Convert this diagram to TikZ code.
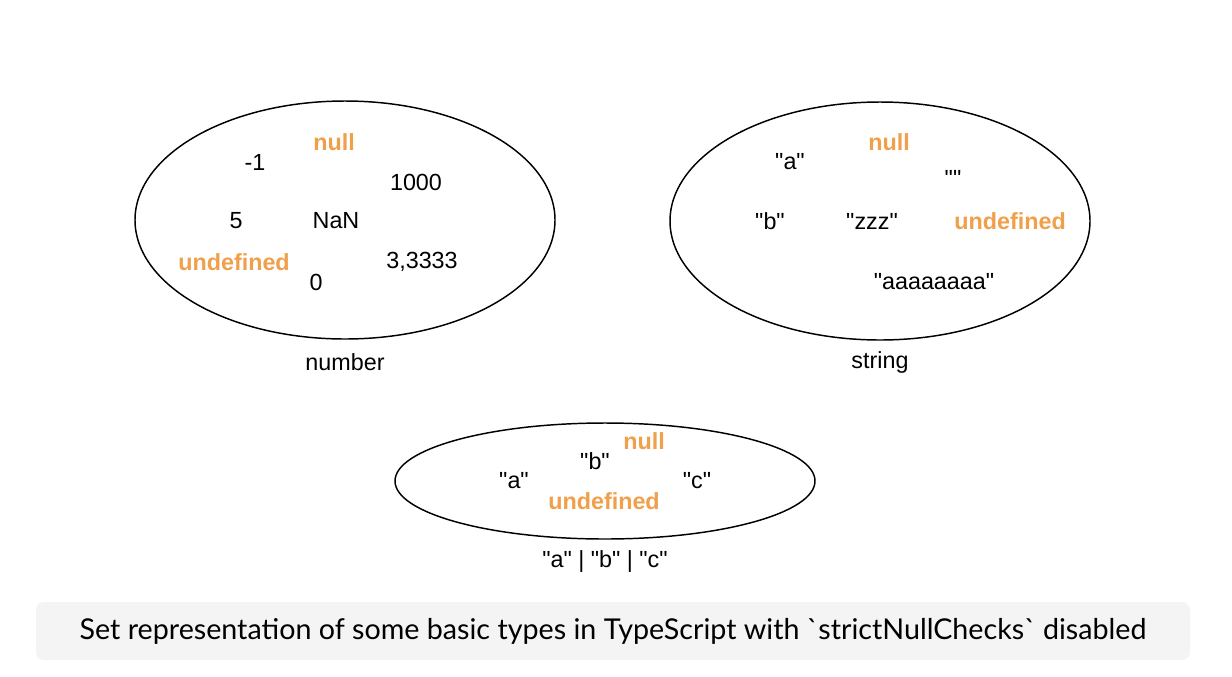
\documentclass[tikz,border=0pt]{standalone}
\usepackage{fontspec}
\setmainfont{Liberation Sans}[Ligatures=TeXOff]
\newfontfamily\captionfont{Lato}
\usepackage{xcolor}
\definecolor{nullorange}{HTML}{F0A04B}
\definecolor{captiongray}{HTML}{F4F4F4}
\usetikzlibrary{positioning}
\tikzset{
  val/.style={font=\fontsize{17.5}{21}\selectfont, inner sep=0pt},
  nullval/.style={val, font=\fontsize{17.5}{21}\selectfont\bfseries, text=nullorange},
  setname/.style={font=\fontsize{17.5}{21}\selectfont, inner sep=0pt}
}

\begin{document}
\begin{tikzpicture}[x=0.75pt,y=-0.75pt]
        \useasboundingbox[fill=white] (0,0) rectangle (1232,676);
        % 绘制集合
        \draw[line width=1.1pt] (345,220) ellipse[x radius=210,y radius=119];
        \draw[line width=1.1pt] (880,221) ellipse[x radius=210,y radius=119];
        \draw[line width=1.1pt] (605,481) ellipse[x radius=210,y radius=58];
        % number
        \node[nullval] (n-null) at (334,142) {null};
        \node[val] (n-m1) at (255,162) {-1};
        \node[val] (n-1000) at (416,182) {1000};
        \node[val] (n-5) at (236,221) {5};
        \node[val] (n-nan) at (336,221) {NaN};
        \node[nullval] (n-undef) at (234,262) {undefined};
        \node[val] (n-33) at (422,262) {3,3333};
        \node[val] (n-0) at (316,282) {0};
        \node[setname] (number) at (345,362) {number};
        % string
        \node[nullval] (s-null) at (889,142) {null};
        \node[val] (s-a) at (790,162) {"a"};
        \node[val] (s-empty) at (953,178) {""};
        \node[val] (s-b) at (770,221) {"b"};
        \node[val] (s-zzz) at (872,221) {"zzz"};
        \node[nullval] (s-undef) at (1010,221) {undefined};
        \node[val] (s-long) at (934,282) {"aaaaaaaa"};
        \node[setname] (string) at (880,362) {string};
        % union
        \node[nullval] (u-null) at (644,441) {null};
        \node[val] (u-b) at (595,461) {"b"};
        \node[val] (u-a) at (514,481) {"a"};
        \node[val] (u-c) at (697,481) {"c"};
        \node[nullval] (u-undef) at (604,501) {undefined};
        \node[setname] (union) at (605,562) {"a" | "b" | "c"};
        % 标题
        \fill[captiongray, rounded corners=6pt] (36,602) rectangle (1190,660);
        \node[font=\captionfont\fontsize{21.5}{25}\selectfont] (caption) at (613,631)
          {Set representation of some basic types in TypeScript with `strictNullChecks` disabled};
\end{tikzpicture}
\end{document}
